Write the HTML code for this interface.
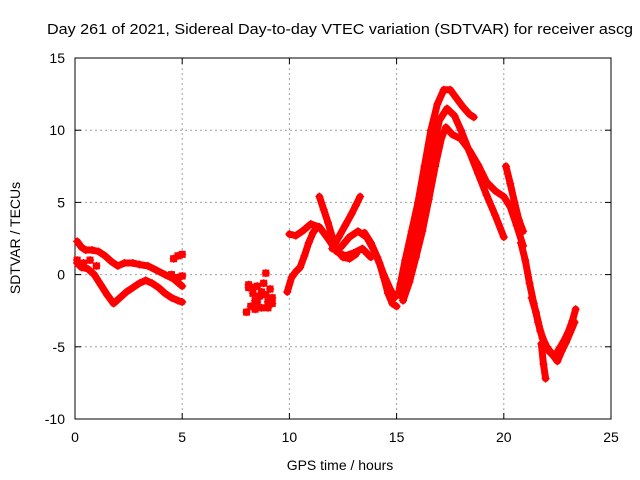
<!DOCTYPE html>
<html><head><meta charset="utf-8"><style>
body{margin:0;background:#fff}
svg{display:block;font-family:"Liberation Sans",sans-serif}
</style></head><body>
<svg id="chart" width="640" height="480">
<rect width="640" height="480" fill="#fff"/>
<text x="47" y="34" font-size="15" textLength="586" lengthAdjust="spacingAndGlyphs">Day 261 of 2021, Sidereal Day-to-day VTEC variation (SDTVAR) for receiver ascg</text>
<g id="grid"></g>
<g id="axes"></g>
<g id="marks"></g>
<text x="340" y="470" font-size="14" text-anchor="middle">GPS time / hours</text>
<text x="20" y="238" font-size="14" text-anchor="middle" transform="rotate(-90 20 238)">SDTVAR / TECUs</text>
</svg>
<script>
const xTicks=[0,5,10,15,20,25];
const yTicks=[-10,-5,0,5,10,15];
const trackAh=[0.1,0.3,0.5,0.8,1.1,1.4,1.7,2.0,2.3,2.7,3.0,3.4,3.8,4.2,4.6,5.0];
const trackAv=[2.3,1.9,1.7,1.7,1.6,1.3,0.9,0.6,0.8,0.8,0.7,0.6,0.3,0.0,-0.3,-0.8];
const trackBh=[0.1,0.3,0.6,0.9,1.2,1.5,1.8,2.1,2.4,2.7,3.0,3.3,3.6,3.9,4.2,4.5,4.8,5.0];
const trackBv=[0.8,0.5,0.4,0.0,-0.7,-1.4,-2.0,-1.6,-1.2,-0.9,-0.6,-0.4,-0.6,-0.9,-1.3,-1.6,-1.8,-1.9];
const trackB2h=[0.1,0.4,0.7,1.0,4.6,4.8,5.0,4.5,4.8,5.0];
const trackB2v=[1.0,0.8,1.0,0.6,1.1,1.3,1.4,0.0,-0.2,-0.1];
const scatHh=[8.0,8.1,8.2,8.3,8.4,8.5,8.6,8.7,8.8,8.9,9.0,9.1,9.2,8.1,8.4,8.7,9.0,9.2,8.9,8.5,8.3];
const scatHv=[-2.6,-0.7,-2.2,-1.3,-1.8,-0.8,-1.5,-2.3,-0.6,0.1,-1.9,-1.0,-2.0,-0.9,-2.4,-1.2,-2.3,-1.6,-1.4,-1.9,-0.9];
const trackCh=[10.0,10.3,10.6,11.0,11.4,11.8,12.2,12.6,13.0,13.4,13.8];
const trackCv=[2.8,2.7,3.0,3.5,3.3,2.5,1.6,1.3,1.5,1.8,1.2];
const trackDh=[9.9,10.1,10.3,10.5,10.7,10.9,11.1,11.3];
const trackDv=[-1.2,-0.2,0.2,0.5,1.3,2.2,2.9,3.3];
const trackEh=[11.4,11.6,11.8,12.0,12.2,12.5,12.8,13.1];
const trackEv=[5.4,4.5,3.6,2.6,1.7,1.2,1.1,1.4];
const trackFh=[12.0,12.3,12.6,12.9,13.1,13.3];
const trackFv=[1.8,2.6,3.4,4.2,4.8,5.4];
const trackGh=[12.4,12.8,13.2,13.6,13.9,14.2,14.4,14.6,14.8,15.0];
const trackGv=[1.9,2.6,3.0,2.6,1.8,0.8,-0.2,-1.3,-2.0,-2.2];
const trackG2h=[13.5,13.8,14.1,14.4,14.7,14.9];
const trackG2v=[2.9,2.2,1.2,0.0,-1.0,-1.6];
const peak1h=[15.1,15.4,15.7,16.0,16.3,16.6,16.9,17.2,17.5,17.8,18.1,18.4,18.6];
const peak1v=[-1.2,1.0,3.0,5.0,7.5,10.0,11.8,12.8,12.8,12.2,11.6,11.1,10.9];
const peak2h=[15.2,15.5,15.8,16.1,16.4,16.7,17.0,17.35,17.7,18.0,18.4,18.8,19.2,19.6,20.0];
const peak2v=[-1.5,0.5,2.2,4.0,6.3,8.8,10.7,11.5,11.0,10.0,8.5,7.0,5.5,4.1,2.6];
const peak3h=[15.3,15.6,15.9,16.2,16.5,16.8,17.1,17.3,17.6,18.0,18.4,18.8,19.2,19.6,20.0,20.3,20.6,20.9];
const peak3v=[-1.8,-0.5,1.2,3.0,5.2,7.5,9.5,10.2,9.7,9.4,8.6,7.6,6.4,5.8,5.4,4.7,3.4,2.0];
const spikeh=[20.1,20.3,20.5,20.7,20.9];
const spikev=[7.5,6.3,5.0,3.8,3.0];
const tailh=[20.8,21.0,21.2,21.4,21.6,21.8,22.0,22.2,22.4,22.6,22.8,23.0,23.2,23.35];
const tailv=[2.2,1.0,-0.6,-2.0,-3.3,-4.4,-5.0,-5.4,-5.6,-5.1,-4.6,-4.0,-3.2,-2.4];
const tail2h=[21.3,21.5,21.7,21.9,22.1,22.3,22.5,22.7,22.9,23.1,23.3];
const tail2v=[-1.6,-2.6,-3.9,-4.7,-5.3,-5.6,-6.0,-5.3,-4.7,-4.0,-3.3];
const dropH=[21.75,21.85,21.95];
const dropV=[-4.8,-6.2,-7.2];

const series=[[trackAh,trackAv],[trackBh,trackBv],[trackCh,trackCv],[trackDh,trackDv],[trackEh,trackEv],[trackFh,trackFv],[trackGh,trackGv],[trackG2h,trackG2v],[peak1h,peak1v],[peak2h,peak2v],[peak3h,peak3v],[spikeh,spikev],[tailh,tailv],[tail2h,tail2v],[dropH,dropV]];
const pointSets=[[trackB2h,trackB2v],[scatHh,scatHv]];

const X0=75,X1=611,Y0=419,Y1=58;
const xs=h=>X0+(h-0)/25*(X1-X0);
const ys=v=>Y0-(v+10)/25*(Y0-Y1);
const NS="http://www.w3.org/2000/svg";
const mk=(t,a,p)=>{const e=document.createElementNS(NS,t);for(const k in a)e.setAttribute(k,a[k]);p.appendChild(e);return e;};
const grid=document.getElementById('grid'),axes=document.getElementById('axes'),marks=document.getElementById('marks');
xTicks.forEach(t=>{
 const x=xs(t);
 if(t>0&&t<25){const l=mk('line',{x1:x,x2:x,y1:Y1,y2:Y0,stroke:'#a0a0a0','stroke-dasharray':'2,3'},grid);
 
 }
 mk('line',{x1:x,x2:x,y1:Y0,y2:Y0-6,stroke:'#000'},axes);
 mk('line',{x1:x,x2:x,y1:Y1,y2:Y1+6,stroke:'#000'},axes);
 const tx=mk('text',{x:x,y:Y0+23,'font-size':14,'text-anchor':'middle'},axes);tx.textContent=t;
 
 
});
yTicks.forEach(t=>{
 const y=ys(t);
 if(t>-10&&t<15){const l=mk('line',{x1:X0,x2:X1,y1:y,y2:y,stroke:'#a0a0a0','stroke-dasharray':'2,3'},grid);
 
 }
 mk('line',{x1:X0,x2:X0+6,y1:y,y2:y,stroke:'#000'},axes);
 mk('line',{x1:X1,x2:X1-6,y1:y,y2:y,stroke:'#000'},axes);
 const tx=mk('text',{x:X0-10,y:y+5,'font-size':14,'text-anchor':'end'},axes);tx.textContent=t;
 
 
});
const frame=mk('rect',{x:X0,y:Y1,width:X1-X0,height:Y0-Y1,fill:'none',stroke:'#000'},axes);


function plus(x,y){mk('path',{d:`M${x-4},${y}h8M${x},${y-4}v8`,stroke:'#f00','stroke-width':1.3},marks);}
series.forEach(([h,v])=>{
 const pts=h.map((hh,i)=>xs(hh)+','+ys(v[i])).join(' ');
 const pl=mk('polyline',{points:pts,fill:'none',stroke:'#f00','stroke-width':7,'stroke-linejoin':'round','stroke-linecap':'round'},marks);
 
 
 h.forEach((hh,i)=>plus(xs(hh),ys(v[i])));
});
pointSets.forEach(([h,v])=>{
 h.forEach((hh,i)=>{const x=xs(hh),y=ys(v[i]);
  const c=mk('rect',{x:x-3.5,y:y-3.5,width:7,height:7,fill:'#f00'},marks);
  
  
  plus(x,y);});
});
</script>
</body></html>
